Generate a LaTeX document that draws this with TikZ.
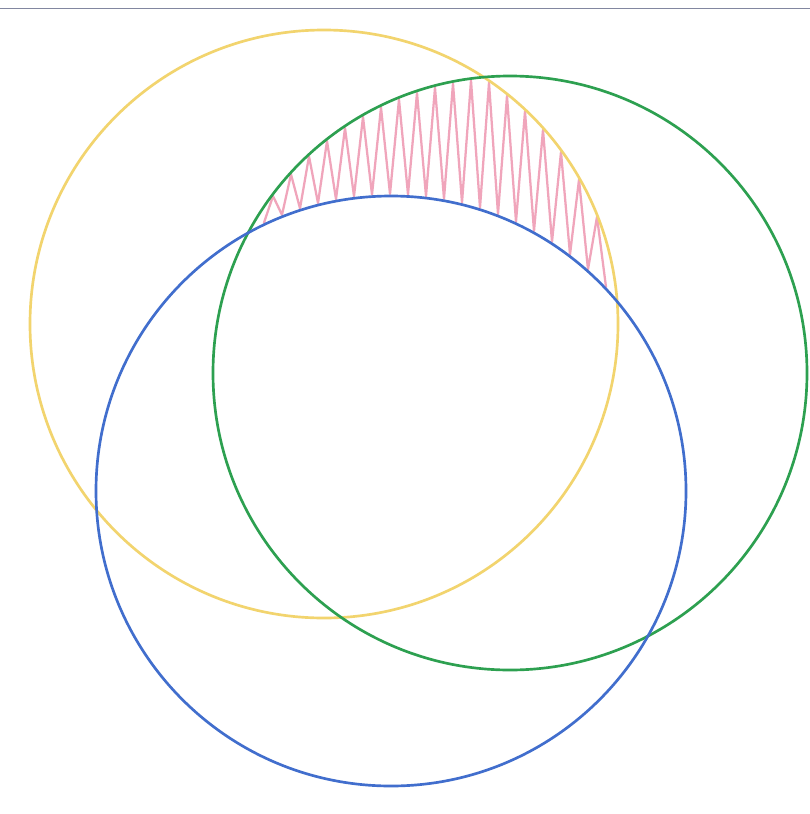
\documentclass[tikz,border=0pt]{standalone}
\definecolor{cyel}{RGB}{242,212,110}
\definecolor{cgrn}{RGB}{45,160,80}
\definecolor{cblu}{RGB}{65,110,205}
\definecolor{cpnk}{RGB}{235,135,165}
\definecolor{cgry}{RGB}{130,135,160}
\tikzset{
  crayon/.style={line width=2pt, line cap=round},
  yelcircle/.style={crayon, draw=cyel},
  grncircle/.style={crayon, draw=cgrn},
  blucircle/.style={crayon, draw=cblu},
  pinkzig/.style={line width=1.7pt, draw=cpnk, opacity=0.75, line join=round, line cap=round},
  edgeline/.style={line width=0.6pt, draw=cgry}
}
\begin{document}
\begin{tikzpicture}[x=0.75pt,y=-0.75pt,
  declare function={
    yY(\t)=100*(3.24-sqrt(2.94^2-((\t)/100-3.24)^2));
    yG(\t)=100*(3.73-sqrt(2.97^2-((\t)/100-5.10)^2));
    yB(\t)=100*(4.91-sqrt(2.95^2-((\t)/100-3.91)^2));
  }]
\useasboundingbox (0,0) rectangle (810,814);
\fill[white] (0,0) rectangle (810,814);
\coordinate (tl) at (0,8);
\coordinate (tr) at (810,8);
\draw[edgeline] (tl) -- (tr);
\coordinate (cY) at (324,324);
\coordinate (cG) at (510,373);
\coordinate (cB) at (391,491);
% pink zigzag hatching in yellow and green but not blue
\draw[pinkzig] plot[samples at={264,273,...,612}]
  (\x, {ifthenelse(mod(round((\x-264)/9),2)==0, yB(\x)-2, max(yY(\x),yG(\x))+2)});
\draw[yelcircle] (cY) circle[radius=294];
\draw[grncircle] (cG) circle[radius=297];
\draw[blucircle] (cB) circle[radius=295];
\end{tikzpicture}
\end{document}
